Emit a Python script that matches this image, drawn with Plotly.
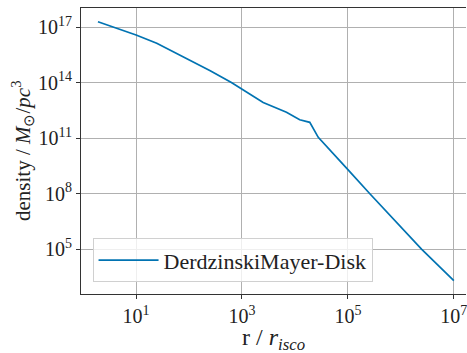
import plotly.graph_objects as go

# data (log10 values)
log_r = [0.28, 1.0, 1.39, 2.21, 2.40, 2.80, 3.0, 3.40, 3.84, 4.09, 4.28, 4.44, 5.0, 5.41, 6.39, 7.0]
log_rho = [17.29, 16.57, 16.12, 14.95, 14.64, 14.0, 13.64, 12.92, 12.40, 11.99, 11.85, 11.04, 9.29, 8.0, 5.0, 3.29]
r = [10 ** v for v in log_r]
rho = [10 ** v for v in log_rho]

series_name = "DerdzinskiMayer-Disk"
x_tickvals = [1e1, 1e3, 1e5, 1e7]
x_ticktext = ["10<sup>1</sup>", "10<sup>3</sup>", "10<sup>5</sup>", "10<sup>7</sup>"]
y_tickvals = [1e5, 1e8, 1e11, 1e14, 1e17]
y_ticktext = ["10<sup>5</sup>", "10<sup>8</sup>", "10<sup>11</sup>", "10<sup>14</sup>", "10<sup>17</sup>"]
x_title = "r / <i>r<sub>isco</sub></i>"
y_title = "density / <i>M</i><sub>⊙</sub>/<i>pc</i><sup>3</sup>"

FONT = "Liberation Serif"

fig = go.Figure()
fig.add_trace(go.Scatter(x=r, y=rho, mode="lines", name=series_name,
                         line=dict(color="#0173b2", width=1.7)))

fig.update_layout(
    width=467, height=353,
    margin=dict(l=81, r=1, t=8, b=59, autoexpand=False),
    paper_bgcolor="white", plot_bgcolor="white",
    font=dict(family=FONT, size=17, color="#222"),
    showlegend=True,
    legend=dict(x=0.03, y=0.041, xanchor="left", yanchor="bottom",
                bgcolor="rgba(255,255,255,0.8)", bordercolor="#d0d0d0", borderwidth=1,
                font=dict(family=FONT, size=22, color="#222"),
                itemwidth=60),
)
fig.update_xaxes(
    type="log", range=[-0.04, 7.23], automargin=False,
    tickvals=x_tickvals, ticktext=x_ticktext, ticklabeloverflow="allow",
    showgrid=True, gridcolor="#b0b0b0", gridwidth=1,
    showline=True, linecolor="#333", linewidth=1.2, mirror=True,
    ticks="outside", ticklen=4, tickcolor="#333",
    tickfont=dict(family=FONT, size=20),
    zeroline=False,
)
fig.update_yaxes(
    type="log", range=[2.57, 18.03], automargin=False,
    tickvals=y_tickvals, ticktext=y_ticktext,
    showgrid=True, gridcolor="#b0b0b0", gridwidth=1,
    showline=True, linecolor="#333", linewidth=1.2,
    ticks="outside", ticklen=4, tickcolor="#333",
    tickfont=dict(family=FONT, size=20),
    zeroline=False,
)
fig.add_annotation(text=x_title, xref="paper", yref="paper", x=0.5, y=0.0, yshift=-45,
                   xanchor="center", yanchor="middle", showarrow=False,
                   font=dict(family=FONT, size=24, color="#222"))
fig.add_annotation(text=y_title, xref="paper", yref="paper", x=0, xshift=-59, y=0.5,
                   xanchor="center", yanchor="middle", showarrow=False, textangle=-90,
                   font=dict(family=FONT, size=21, color="#222"))

fig.write_html("out.html", config={"displayModeBar": False},
               post_script="document.body.style.margin='0';document.body.style.overflow='hidden';")
